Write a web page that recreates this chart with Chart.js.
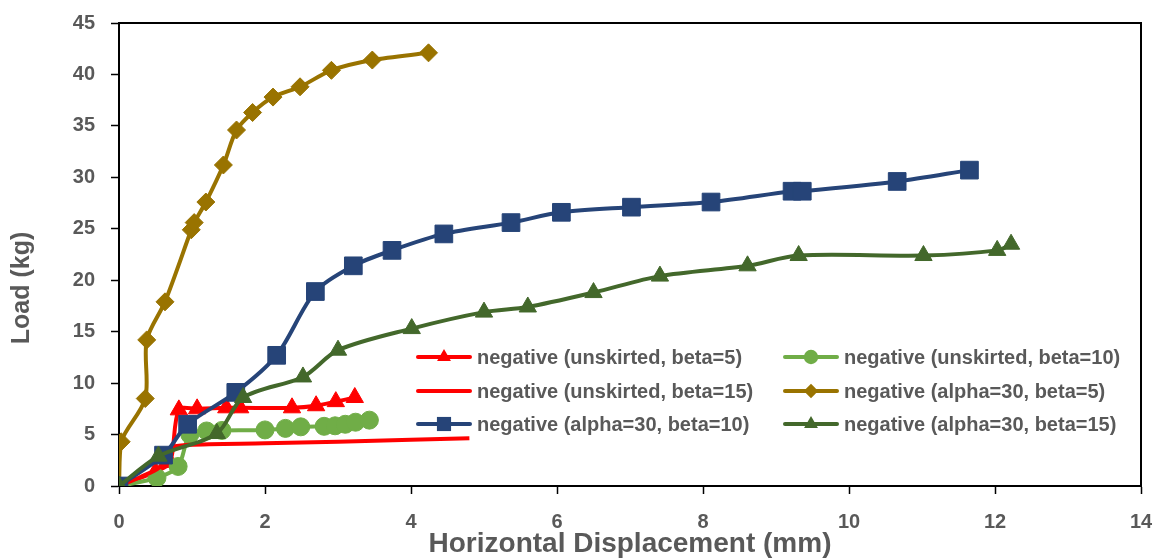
<!DOCTYPE html>
<html lang="en">
<head>
    <meta charset="UTF-8">
    <meta name="viewport" content="width=device-width, initial-scale=1.0">
    <title>Load vs Horizontal Displacement</title>
    <script src="https://cdn.jsdelivr.net/npm/chart.js@4.4.1/dist/chart.umd.min.js"></script>
    <style>
        body{
            margin: 0;
            padding: 0;
            background: #fff;
        }
        .wrap{
            position: relative;
            width: 1162px;
            height: 559px;
        }
    </style>
</head>
<body>
    <div class="wrap">
        <canvas id="loadChart"></canvas>
    </div>
    <script>
        // displacement (mm) and load (kg) for each test
        const unskB5X = [0, 0.5, 0.7, 0.82, 1.07, 1.47, 1.66, 2.37, 2.7, 2.97, 3.23];
        const unskB5Y = [0, 1.4, 2.3, 7.4, 7.5, 7.6, 7.6, 7.6, 7.8, 8.2, 8.6];

        const unskB10X = [0, 0.52, 0.81, 0.97, 1.2, 1.41, 2.0, 2.28, 2.49, 2.81, 2.96, 3.1, 3.24, 3.43];
        const unskB10Y = [0, 0.8, 1.9, 5.0, 5.35, 5.4, 5.45, 5.6, 5.75, 5.8, 5.85, 6.0, 6.2, 6.4];

        const unskB15X = [0, 0.3, 0.55, 0.72, 0.95, 2, 3, 4, 4.8];
        const unskB15Y = [0, 0.9, 1.8, 3.7, 4.0, 4.15, 4.3, 4.5, 4.65];

        const a30B5X = [0, 0.03, 0.36, 0.38, 0.63, 0.99, 1.03, 1.19, 1.43, 1.61, 1.83, 2.11, 2.48, 2.91, 3.47, 4.24];
        const a30B5Y = [0, 4.3, 8.5, 14.2, 17.9, 24.9, 25.6, 27.6, 31.2, 34.6, 36.3, 37.8, 38.8, 40.4, 41.4, 42.1];

        const a30B10X = [0, 0.61, 0.94, 1.6, 2.16, 2.69, 3.21, 3.74, 4.45, 5.37, 6.06, 7.02, 8.11, 9.22, 9.36, 10.66, 11.65];
        const a30B10Y = [0, 3.0, 6.0, 9.1, 12.7, 18.9, 21.4, 22.9, 24.5, 25.6, 26.6, 27.1, 27.6, 28.65, 28.65, 29.6, 30.7];

        const a30B15X = [0, 0.54, 1.34, 1.7, 2.52, 3.0, 4.01, 5.0, 5.6, 6.5, 7.41, 8.61, 9.31, 11.02, 12.03, 12.22];
        const a30B15Y = [0, 2.9, 5.1, 8.6, 10.6, 13.2, 15.3, 16.9, 17.4, 18.8, 20.4, 21.4, 22.4, 22.4, 22.9, 23.5];

        const xTicks = [0, 2, 4, 6, 8, 10, 12, 14];
        const yTicks = [0, 5, 10, 15, 20, 25, 30, 35, 40, 45];

        const textGrey = '#595959';
        const fontFam = "'Liberation Sans', Arial, sans-serif";

        function pts(xs, ys){
            return xs.map(function(x, i){ return {x: x, y: ys[i]}; });
        }

        function series(label, xs, ys, color, style, radius){
            return {
                label: label,
                data: pts(xs, ys),
                borderColor: color,
                backgroundColor: color,
                pointBackgroundColor: color,
                pointBorderColor: color,
                borderWidth: 4,
                pointStyle: style,
                pointRadius: radius,
                pointBorderWidth: 1,
                tension: 0.3,
                fill: false
            };
        }

        const datasets = [
            series('negative (unskirted, beta=5)', unskB5X, unskB5Y, '#FF0000', 'triangle', 10),
            series('negative (unskirted, beta=10)', unskB10X, unskB10Y, '#70AD47', 'circle', 9),
            series('negative (unskirted, beta=15)', unskB15X, unskB15Y, '#FF0000', 'circle', 0),
            series('negative (alpha=30, beta=5)', a30B5X, a30B5Y, '#997300', 'rectRot', 9),
            series('negative (alpha=30, beta=10)', a30B10X, a30B10Y, '#264478', 'rect', 12.5),
            series('negative (alpha=30, beta=15)', a30B15X, a30B15Y, '#43682B', 'triangle', 10)
        ];
        // later series sit on top
        datasets.forEach(function(d, i){ d.order = datasets.length - i; });

        function marker(ctx, style, x, y, r){
            ctx.beginPath();
            if (style === 'triangle'){
                ctx.moveTo(x, y - r);
                ctx.lineTo(x + r * 0.866, y + r / 2);
                ctx.lineTo(x - r * 0.866, y + r / 2);
                ctx.closePath();
            } else if (style === 'rect'){
                const s = r * Math.SQRT1_2;
                ctx.rect(x - s, y - s, 2 * s, 2 * s);
            } else if (style === 'rectRot'){
                ctx.moveTo(x - r, y);
                ctx.lineTo(x, y - r);
                ctx.lineTo(x + r, y);
                ctx.lineTo(x, y + r);
                ctx.closePath();
            } else {
                ctx.arc(x, y, r, 0, Math.PI * 2);
            }
            ctx.fill();
        }

        // frame on top and right, plus the y title sitting a bit low like the original
        const frame = {
            id: 'frame',
            afterDraw(chart){
                const a = chart.chartArea;
                const ctx = chart.ctx;
                ctx.save();
                ctx.strokeStyle = '#000';
                ctx.lineWidth = 2;
                ctx.beginPath();
                ctx.moveTo(a.left, a.top);
                ctx.lineTo(a.right, a.top);
                ctx.lineTo(a.right, a.bottom);
                ctx.stroke();

                ctx.translate(22, 288);
                ctx.rotate(-Math.PI / 2);
                ctx.font = 'bold 25px ' + fontFam;
                ctx.fillStyle = textGrey;
                ctx.textAlign = 'center';
                ctx.textBaseline = 'middle';
                ctx.fillText('Load (kg)', 0, 0);
                ctx.restore();
            }
        };

        // two column legend inside the plot
        const insideLegend = {
            id: 'insideLegend',
            afterDraw(chart){
                const ctx = chart.ctx;
                const cols = [418, 785];
                const rows = [357, 391, 424];
                ctx.save();
                ctx.font = 'bold 20px ' + fontFam;
                ctx.textBaseline = 'middle';
                chart.data.datasets.forEach(function(d, i){
                    const x = cols[i % 2];
                    const y = rows[Math.floor(i / 2)];
                    ctx.strokeStyle = d.borderColor;
                    ctx.lineWidth = 4;
                    ctx.lineCap = 'round';
                    ctx.beginPath();
                    ctx.moveTo(x, y);
                    ctx.lineTo(x + 52, y);
                    ctx.stroke();
                    if (d.pointRadius > 0){
                        ctx.fillStyle = d.backgroundColor;
                        marker(ctx, d.pointStyle, x + 26, y, d.pointRadius * 0.8);
                    }
                    ctx.fillStyle = textGrey;
                    ctx.fillText(d.label, x + 59, y + 1);
                });
                ctx.restore();
            }
        };

        const ctx = document.getElementById('loadChart').getContext('2d');
        const loadChart = new Chart(ctx, {
            type: 'line',
            data: { datasets: datasets },
            plugins: [frame, insideLegend],
            options: {
                responsive: true,
                maintainAspectRatio: false,
                animation: false,
                layout: { padding: { top: 23, right: 21, left: 0, bottom: 0 } },
                plugins: {
                    legend: { display: false },
                    tooltip: { enabled: false }
                },
                scales: {
                    x: {
                        type: 'linear',
                        min: xTicks[0],
                        max: xTicks[xTicks.length - 1],
                        afterBuildTicks(s){ s.ticks = xTicks.map(function(v){ return {value: v}; }); },
                        afterFit(s){
                            s.height = 73;
                            s.paddingLeft = 0;
                            s.paddingRight = 0;
                        },
                        ticks: {
                            color: textGrey,
                            padding: 16,
                            font: { family: fontFam, size: 20, weight: 'bold' }
                        },
                        grid: { drawOnChartArea: false, tickLength: 8, color: '#000', tickWidth: 1.5 },
                        border: { color: '#000', width: 2 },
                        title: {
                            display: true,
                            text: 'Horizontal Displacement (mm)',
                            color: textGrey,
                            padding: { top: 0, bottom: -2 },
                            font: { family: fontFam, size: 28, weight: 'bold', lineHeight: 1.2 }
                        }
                    },
                    y: {
                        min: yTicks[0],
                        max: yTicks[yTicks.length - 1],
                        afterBuildTicks(s){ s.ticks = yTicks.map(function(v){ return {value: v}; }); },
                        afterFit(s){
                            s.width = 119;
                            s.paddingTop = 0;
                            s.paddingBottom = 0;
                        },
                        ticks: {
                            color: textGrey,
                            padding: 16,
                            font: { family: fontFam, size: 20, weight: 'bold' }
                        },
                        grid: { drawOnChartArea: false, tickLength: 8, color: '#000', tickWidth: 1.5 },
                        border: { color: '#000', width: 2 }
                    }
                }
            }
        });
    </script>
</body>
</html>
